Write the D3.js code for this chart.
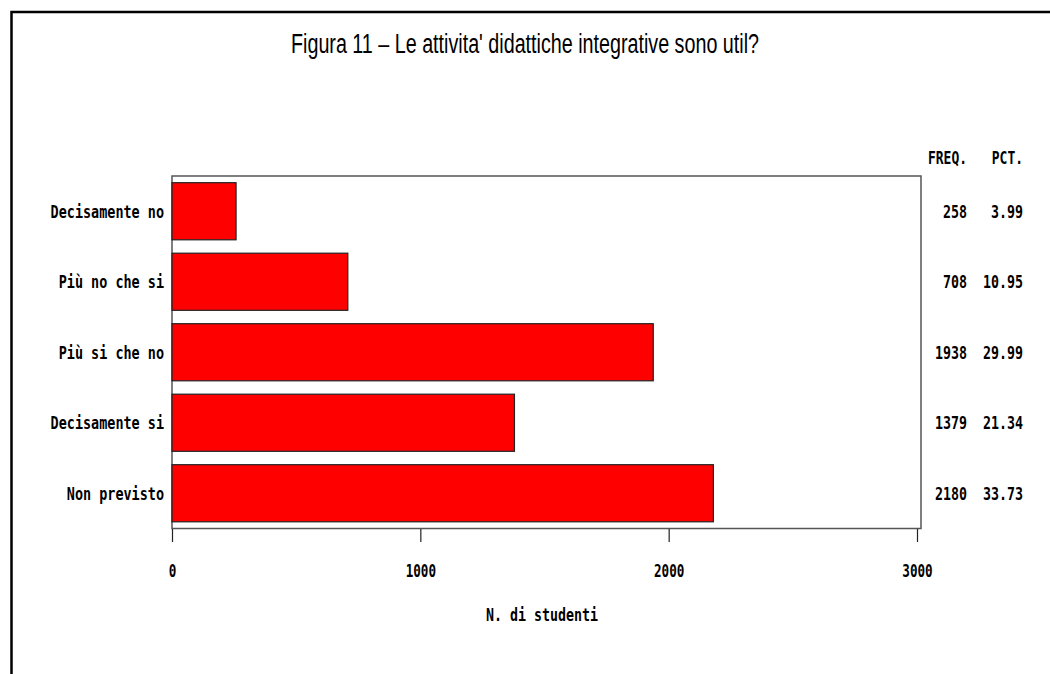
<!DOCTYPE html>
<html>
<head>
<meta charset="utf-8">
<script src="https://cdn.jsdelivr.net/npm/d3@7"></script>
<style>
  html, body { margin: 0; padding: 0; background: #fff; }
  svg { display: block; }
  .mono { font-family: "DejaVu Sans Mono", "Liberation Mono", monospace; fill: #000; font-weight: bold; }
</style>
</head>
<body>
<svg id="chart" width="1050" height="674"></svg>
<script>
const categories = ["Decisamente no", "Più no che si", "Più si che no", "Decisamente si", "Non previsto"];
const freq = [258, 708, 1938, 1379, 2180];
const pct = ["3.99", "10.95", "29.99", "21.34", "33.73"];
const xTicks = [0, 1000, 2000, 3000];
const title = "Figura 11 \u2013 Le attivita' didattiche integrative sono util?";
const xLabel = "N. di studenti";

const svg = d3.select("#chart");

// outer frame
svg.append("path")
  .attr("d", "M11.5,1000 L11.5,12 L1100,12")
  .attr("fill", "none").attr("stroke", "#000").attr("stroke-width", 2.5);

// title
svg.append("text")
  .attr("x", 525).attr("y", 53)
  .attr("text-anchor", "middle")
  .attr("font-family", "'Liberation Sans Narrow', 'Liberation Sans', Arial, sans-serif")
  .attr("font-size", 27)
  .attr("textLength", 468).attr("lengthAdjust", "spacingAndGlyphs")
  .text(title);

const x = d3.scaleLinear().domain([0, 3000]).range([172, 917]);
const y = d3.scaleBand().domain(categories).range([176, 528.5]).paddingInner(0.19).paddingOuter(0.095);

// plot frame
svg.append("rect")
  .attr("x", 172).attr("y", 176).attr("width", 921 - 172).attr("height", 528.5 - 176)
  .attr("fill", "none").attr("stroke", "#555").attr("stroke-width", 1.5);

// bars
svg.selectAll("rect.bar").data(categories).enter().append("rect")
  .attr("class", "bar")
  .attr("x", x(0))
  .attr("y", d => y(d))
  .attr("width", (d, i) => x(freq[i]) - x(0))
  .attr("height", y.bandwidth())
  .attr("fill", "#ff0000")
  .attr("stroke", "#222").attr("stroke-width", 1.2);

function monoText(sel, str, size, perChar) {
  sel.attr("font-size", size)
    .attr("textLength", str.length * perChar)
    .attr("lengthAdjust", "spacingAndGlyphs")
    .text(str);
}

// category labels
categories.forEach((c, i) => {
  const t = svg.append("text").attr("class", "mono")
    .attr("x", 164).attr("y", y(c) + y.bandwidth() / 2)
    .attr("dy", "0.36em").attr("text-anchor", "end");
  monoText(t, c, 18, 8.1);
});

// axis
const axis = d3.axisBottom(x).tickValues(xTicks).tickSize(13).tickFormat(d3.format("d"));
const gx = svg.append("g").attr("transform", "translate(0,529)").call(axis);
gx.select(".domain").remove();
gx.selectAll(".tick line").attr("stroke", "#222").attr("stroke-width", 1.2);
gx.selectAll(".tick text").each(function(d) {
  const s = String(d);
  const t = d3.select(this).attr("class", "mono").attr("y", 42).attr("dy", "0.36em");
  monoText(t, s, 18, 7.6);
});
gx.selectAll(".tick text").attr("fill", "#000");

// x label
const xl = svg.append("text").attr("class", "mono")
  .attr("x", 542).attr("y", 615).attr("dy", "0.36em").attr("text-anchor", "middle");
monoText(xl, xLabel, 18, 8);

// right columns
const h1 = svg.append("text").attr("class", "mono").attr("x", 967).attr("y", 158).attr("dy", "0.36em").attr("text-anchor", "end");
monoText(h1, "FREQ.", 18, 7.8);
const h2 = svg.append("text").attr("class", "mono").attr("x", 1023).attr("y", 158).attr("dy", "0.36em").attr("text-anchor", "end");
monoText(h2, "PCT.", 18, 7.8);

categories.forEach((c, i) => {
  const cy = y(c) + y.bandwidth() / 2;
  const f = svg.append("text").attr("class", "mono").attr("x", 967).attr("y", cy).attr("dy", "0.36em").attr("text-anchor", "end");
  monoText(f, String(freq[i]), 18, 8);
  const p = svg.append("text").attr("class", "mono").attr("x", 1023).attr("y", cy).attr("dy", "0.36em").attr("text-anchor", "end");
  monoText(p, pct[i], 18, 8);
});
</script>
</body>
</html>
